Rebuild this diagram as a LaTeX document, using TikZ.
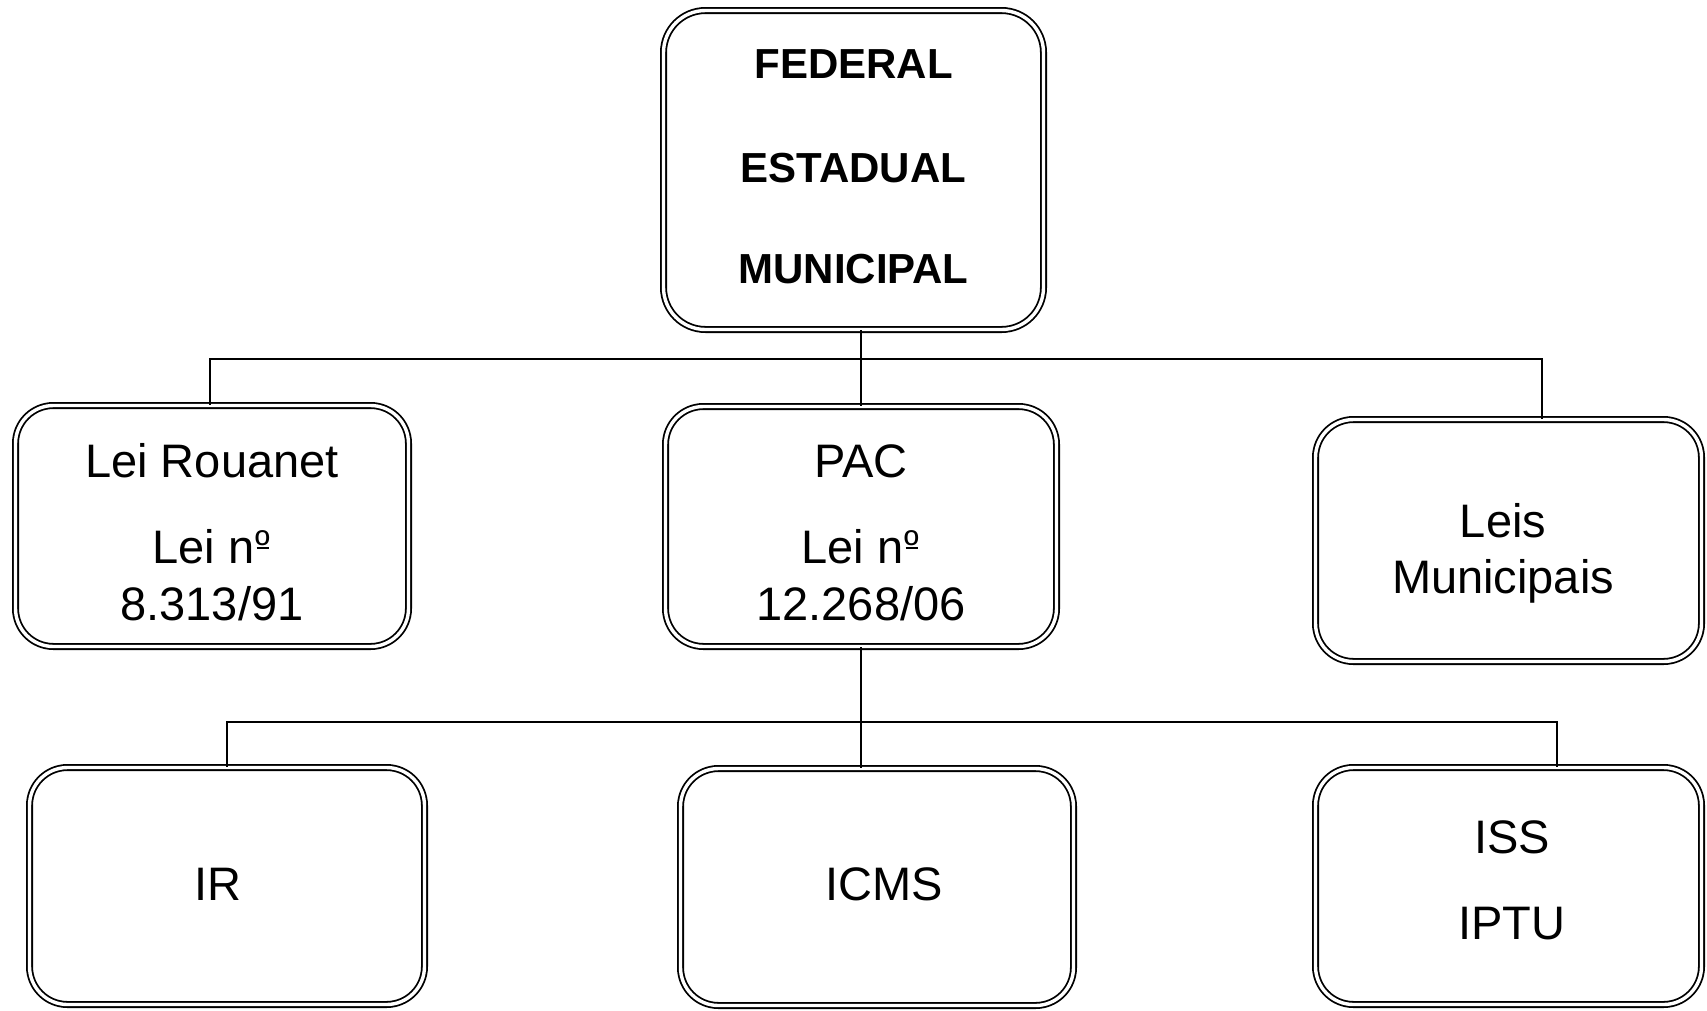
\documentclass[tikz,border=0pt]{standalone}
\usepackage{graphicx}
\usepackage{fontspec}
\setmainfont{Liberation Sans}
\newcommand\ordmark{\leavevmode\setbox0\hbox{º}\hbox{\rlap{\raisebox{0.1em}{\hbox to\wd0{\hss\scalebox{0.85}{º}\hss}}}\hbox to \wd0{\hss\rule[0.3em]{0.27em}{0.047em}\hss}}}
\begin{document}
\begin{tikzpicture}[x=1pt,y=-1pt,
  box/.style={draw=black, double=white, double distance=3.4pt, line width=1.8pt,
    rounded corners=38pt, inner sep=0pt},
  btxt/.style={anchor=base, inner sep=0pt, font=\fontsize{42}{50}\selectfont\bfseries},
  txt/.style={anchor=base, inner sep=0pt, font=\fontsize{47}{56}\selectfont},
  conn/.style={line width=2.3pt}]
\useasboundingbox (0,0) rectangle (1707,1010);
% boxes
\node[box, minimum width=380pt, minimum height=319pt, rounded corners=42pt] (top) at (853.5,170) {};
\node[box, minimum width=393pt, minimum height=241pt] (rou) at (212,526) {};
\node[box, minimum width=391pt, minimum height=240pt] (pac) at (861,526.5) {};
\node[box, minimum width=386pt, minimum height=242pt] (leis) at (1508.5,540.5) {};
\node[box, minimum width=395pt, minimum height=237pt] (ir) at (227,886) {};
\node[box, minimum width=393pt, minimum height=237pt] (icms) at (877,887) {};
\node[box, minimum width=386pt, minimum height=237pt] (iss) at (1508.5,886) {};
% texts
\node[btxt] (t1) at (853.5,78) {FEDERAL};
\node[btxt] (t2) at (853.5,182) {ESTADUAL};
\node[btxt] (t3) at (853.5,283) {MUNICIPAL};
\node[txt] (r1) at (212,477) {Lei Rouanet};
\node[txt] (r2) at (212,563) {Lei n\ordmark};
\node[txt] (r3) at (212,620) {8.313/91};
\node[txt] (p1) at (861,477) {PAC};
\node[txt] (p2) at (861,563) {Lei n\ordmark};
\node[txt] (p3) at (861,620) {12.268/06};
\node[txt] (l1) at (1503,537) {Leis};
\node[txt] (l2) at (1503,593) {Municipais};
\node[txt] (i1) at (218,900) {IR};
\node[txt] (c1) at (884,900) {ICMS};
\node[txt] (s1) at (1512,853) {ISS};
\node[txt] (s2) at (1512,939) {IPTU};
% connector junctions
\coordinate (ja) at (861,359);
\coordinate (jl) at (210,359);
\coordinate (jr) at (1542,359);
\coordinate (jb) at (861,722);
\coordinate (kl) at (227,722);
\coordinate (kr) at (1557,722);
% level 1 connectors
\draw[conn] (top.south -| ja) -- (pac.north -| ja);
\draw[conn] (rou.north -| jl) -- (jl) -- (jr) -- (leis.north -| jr);
% level 2 connectors
\draw[conn] (pac.south -| jb) -- (icms.north -| jb);
\draw[conn] (ir.north -| kl) -- (kl) -- (kr) -- (iss.north -| kr);
\end{tikzpicture}
\end{document}
